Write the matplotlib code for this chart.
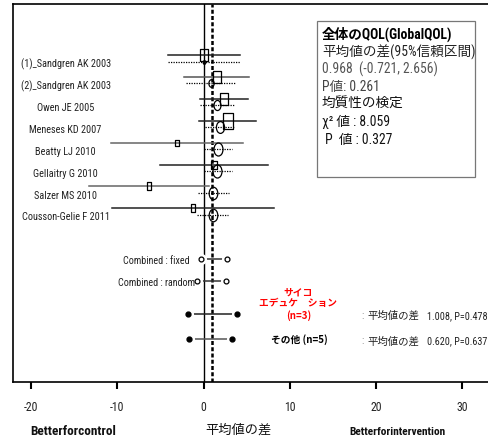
import numpy as np
import matplotlib
matplotlib.use('Agg')
import matplotlib.pyplot as plt
from matplotlib.path import Path
from matplotlib.markers import MarkerStyle
from matplotlib.patches import Rectangle
from matplotlib.transforms import Affine2D

W, H = 489, 439
NARROW = ['Roboto Condensed', 'Noto Sans CJK JP', 'DejaVu Sans']
JP = ['Noto Sans CJK JP', 'DejaVu Sans']
plt.rcParams['font.family'] = NARROW
plt.rcParams['axes.unicode_minus'] = False

studies = ['(1)_Sandgren AK 2003', '(2)_Sandgren AK 2003', 'Owen JE 2005',
           'Meneses KD 2007', 'Beatty LJ 2010', 'Gellaitry G 2010',
           'Salzer MS 2010', 'Cousson-Gelie F 2011']

# solid lines with squares
md_sq = [0.1, 1.5, 2.4, 2.8, -3.1, 1.2, -6.3, -1.2]
lo_sq = [-4.1, -2.3, -0.4, -0.5, -10.7, -5.1, -13.3, -10.6]
hi_sq = [4.2, 5.3, 5.1, 6.1, 4.6, 7.5, 0.6, 8.2]
w_sq = [15.0, 17.7, 15.7, 28.6, 3.6, 8.6, 5.4, 5.4]

# dotted lines with circles
md_ci = [0.1, 0.9, 1.6, 1.9, 1.7, 1.6, 1.1, 1.1]
lo_ci = [-4.1, -2.0, -0.4, 0.2, 0.0, 0.0, -0.6, -0.8]
hi_ci = [4.2, 3.7, 3.5, 3.7, 3.3, 3.3, 2.9, 2.8]
w_ci = [1.4, 6.0, 10.5, 14.4, 17.6, 17.6, 16.2, 16.2]

pooled_md, pooled_lo, pooled_hi = 0.968, -0.721, 2.656
fixed_lo, fixed_hi = -0.27, 2.75
p_overall = 0.261
chi2_het, p_het = 8.059, 0.327

sub_names = ['サイコ\nエデュケ　ション\n(n=3)', 'その他 (n=5)']
sub_colors = ['red', 'black']
sub_md = [1.008, 0.620]
sub_p = [0.478, 0.637]
sub_lo = [-1.75, -1.66]
sub_hi = [3.88, 3.30]

line_colors = ['#222222', '#555555', '#222222', '#222222', '#666666', '#222222', '#666666', '#222222']


def fx(x):
    return x / W


def fy(y):
    return 1 - y / H


fig = plt.figure(figsize=(W / 100, H / 100), dpi=100)
ax = fig.add_axes([fx(13), fy(383), fx(W - 13), 378 / H])
ax.set_xlim(-22.1, 33.1)
ax.set_ylim(15.93, -1.33)
ax.spines['right'].set_visible(False)
for s in ['left', 'top', 'bottom']:
    ax.spines[s].set_linewidth(1.2)
ax.set_yticks([])
ax.set_xticks([-20, -10, 0, 10, 20, 30])
ax.tick_params(axis='x', direction='out', length=5, width=1.5, pad=8,
               labelsize=8.5, labelcolor='#222222')

rect = Path([(-0.5, -0.75), (0.5, -0.75), (0.5, 0.75), (-0.5, 0.75), (-0.5, -0.75)], closed=True)
ell = Affine2D().scale(1, 1.45).transform_path(Path.unit_circle())

ax.axvline(0, color='black', lw=1.0, zorder=1)
ax.axvline(pooled_md, color='black', lw=1.8, ls=(0, (1.6, 0.9)), zorder=1)

rows = np.arange(1, len(studies) + 1)
for i, y in enumerate(rows):
    ax.plot([lo_sq[i], hi_sq[i]], [y, y], color=line_colors[i], lw=1.1)
    ax.plot(md_sq[i], y, marker=MarkerStyle(rect), ms=2.2 * np.sqrt(w_sq[i]),
            mfc='none', mec='black', mew=0.9)
    ax.plot([lo_ci[i], hi_ci[i]], [y + 0.3, y + 0.3], color='black', lw=0.9, ls=(0, (1, 1)))
    ax.plot(md_ci[i], y + 0.3, marker=MarkerStyle(ell), ms=2.24 * np.sqrt(w_ci[i]),
            mfc='none', mec='black', mew=0.9)
    ax.text(-16.0, y + 0.37, studies[i], ha='center', va='center', fontsize=7.4, color='#222222')

# combined estimates
comb = [(10.31, fixed_lo, fixed_hi, 'Combined : fixed', -1.6),
        (11.32, pooled_lo, pooled_hi, 'Combined : random', -1.0)]
for y, lo, hi, lab, xl in comb:
    ax.plot([lo, hi], [y, y], color='#333333', lw=1.1, zorder=2)
    ax.plot([lo, hi], [y, y], ls='none', marker='o', ms=8, mfc='white', mec='none', zorder=3)
    ax.plot([lo, hi], [y, y], ls='none', marker='o', ms=3.5, mfc='white', mec='black', mew=0.9, zorder=4)
    ax.text(xl, y + 0.05, lab, ha='right', va='center', fontsize=7.2, color='#222222')

# subgroup estimates
sub_rows = [12.82, 13.97]
for i, y in enumerate(sub_rows):
    ax.plot([sub_lo[i], sub_hi[i]], [y, y], color=['#222222', '#555555'][i], lw=1.1, zorder=2)
    ax.plot([sub_lo[i], sub_hi[i]], [y, y], ls='none', marker='o', ms=8, mfc='white', mec='none', zorder=3)
    ax.plot([sub_lo[i], sub_hi[i]], [y, y], ls='none', marker='o', ms=3.5, mfc='black', mec='black', zorder=4)
    ax.text(18.45, y + 0.05, ':', ha='center', va='center', fontsize=7, color='#777777')
    ax.text(19.0, y + 0.05, '平均値の差', ha='left', va='center', fontsize=7.5,
            family=JP, color='#222222')
    ax.text(25.95, y + 0.05, f'{sub_md[i]:.3f}, P={sub_p[i]:.3f}', ha='left', va='center',
            fontsize=7.3, color='#222222')

ax.text(11.0, 12.32, sub_names[0], ha='center', va='center', fontsize=7, fontweight='bold',
        family=JP, color=sub_colors[0], linespacing=1.15)
ax.text(11.1, 13.97, sub_names[1], ha='center', va='center', fontsize=7, fontweight='bold',
        family=JP, color=sub_colors[1])

# summary box
fig.add_artist(Rectangle((fx(317), fy(178)), 158 / W, 156 / H, transform=fig.transFigure,
                         fill=False, edgecolor='#777777', lw=0.9))
box_lines = [
    ('全体のQOL(GlobalQOL)', 'bold', '#000000', 34),
    ('平均値の差(95%信頼区間)', 'normal', '#222222', 52),
    (f'{pooled_md:.3f}  ({pooled_lo:.3f}, {pooled_hi:.3f})', 'normal', '#555555', 69),
    (f'P値: {p_overall:.3f}', 'normal', '#444444', 87),
    ('均質性の検定', 'normal', '#111111', 104),
    (f'χ² 値 : {chi2_het:.3f}', 'normal', '#111111', 122),
    (f' P  値 : {p_het:.3f}', 'normal', '#111111', 140),
]
for txt, wt, col, ypx in box_lines:
    fig.text(fx(322), fy(ypx), txt, ha='left', va='center', fontsize=9.8,
             fontweight=wt, color=col)

# axis captions
fig.text(fx(73), fy(432), 'Betterforcontrol', ha='center', va='center', fontsize=9.5,
         fontweight='bold', color='#111111')
fig.text(fx(238), fy(430), '平均値の差', ha='center', va='center', fontsize=9.5,
         family=JP, color='#111111')
fig.text(fx(397), fy(432), 'Betterforintervention', ha='center', va='center', fontsize=8.2,
         fontweight='bold', color='#111111')

fig.savefig('out.png', dpi=100)
